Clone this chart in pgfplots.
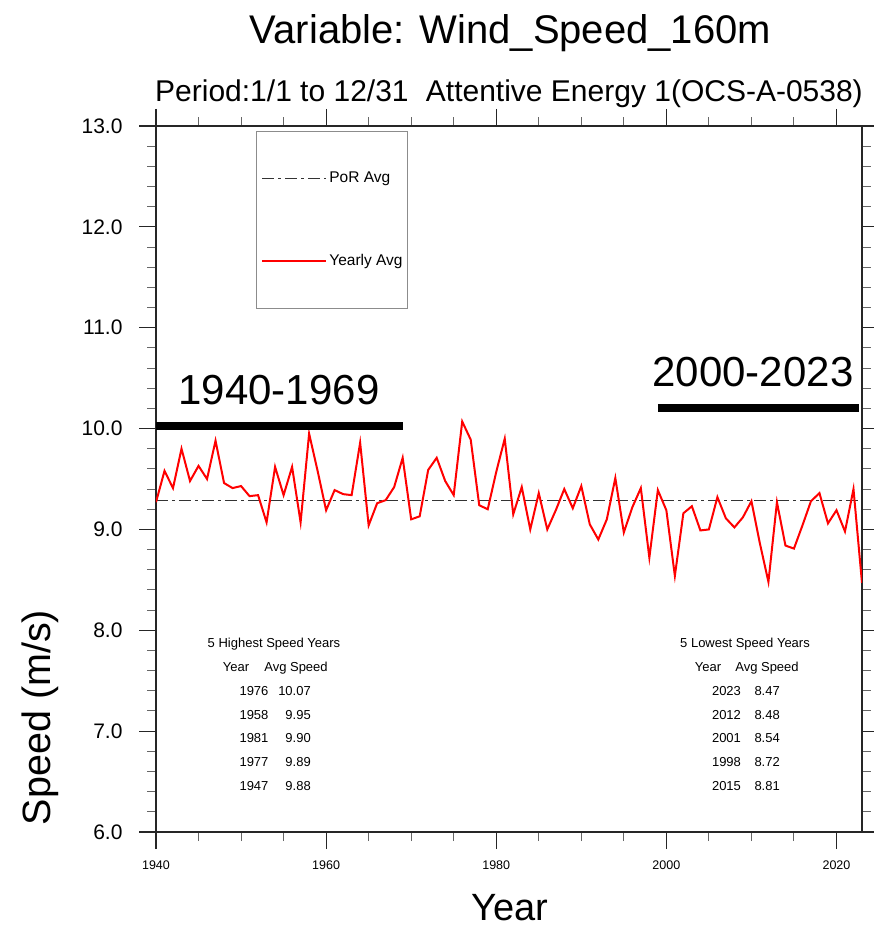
\documentclass[border=0pt]{standalone}
\usepackage{pgfplots}
\pgfplotsset{compat=1.18}
\usepackage{pgfplotstable}
\usepackage{fontspec}
\setmainfont{Liberation Sans}

% yearly mean wind speed at 160 m (m/s)
\pgfplotstableread{
year speed
1940 9.27
1941 9.58
1942 9.41
1943 9.80
1944 9.48
1945 9.63
1946 9.50
1947 9.88
1948 9.46
1949 9.41
1950 9.43
1951 9.33
1952 9.34
1953 9.07
1954 9.62
1955 9.34
1956 9.62
1957 9.07
1958 9.95
1959 9.58
1960 9.19
1961 9.39
1962 9.35
1963 9.34
1964 9.86
1965 9.04
1966 9.26
1967 9.29
1968 9.42
1969 9.71
1970 9.10
1971 9.13
1972 9.59
1973 9.71
1974 9.48
1975 9.34
1976 10.07
1977 9.89
1978 9.24
1979 9.20
1980 9.57
1981 9.90
1982 9.15
1983 9.42
1984 9.00
1985 9.36
1986 9.00
1987 9.19
1988 9.40
1989 9.21
1990 9.43
1991 9.05
1992 8.90
1993 9.10
1994 9.51
1995 8.97
1996 9.22
1997 9.41
1998 8.72
1999 9.39
2000 9.19
2001 8.54
2002 9.16
2003 9.23
2004 8.99
2005 9.00
2006 9.32
2007 9.11
2008 9.02
2009 9.12
2010 9.28
2011 8.86
2012 8.48
2013 9.27
2014 8.84
2015 8.81
2016 9.04
2017 9.28
2018 9.36
2019 9.06
2020 9.19
2021 8.98
2022 9.40
2023 8.47
}\yearly

\begin{document}
\begin{tikzpicture}[x=1pt,y=1pt]
\begin{axis}[
  at={(0,0)}, anchor=south west,
  width=706pt, height=706pt, scale only axis,
  xmin=1940, xmax=2023, ymin=6, ymax=13,
  xtick={1940,1960,1980,2000,2020}, minor x tick num=3,
  ytick={6,7,...,13}, minor y tick num=4,
  tick align=outside, tick pos=both,
  major tick length=17pt, minor tick length=9pt,
  axis line style={black!85, line width=1.2pt},
  major tick style={black!85, line width=1.2pt},
  minor tick style={black!60, line width=1pt},
  /pgf/number format/assume math mode=true,
  /pgf/number format/1000 sep={},
  xticklabel style={font=\fontsize{12.5}{14}\selectfont, yshift=-8pt},
  yticklabel style={font=\fontsize{21}{24}\selectfont, xshift=-13pt,
    /pgf/number format/.cd, fixed, fixed zerofill, precision=1},
  legend style={at={(0.1416,0.9929)}, anchor=north west,
    draw=black!45, line width=0.8pt, fill=white,
    inner xsep=5pt, inner ysep=39pt, row sep=67pt, column sep=2pt,
    font=\fontsize{15.5}{18}\selectfont,
    nodes={inner sep=0pt, text height=12pt, text depth=4pt}},
  legend cell align=left,
  legend image code/.code={\draw[#1] (0pt,0pt) -- (64pt,0pt);},
]
  % period of record average
  \addplot[black!80, line width=1.2pt,
    dash pattern=on 12pt off 4pt on 3pt off 4pt]
    coordinates {(1940,9.29) (2023,9.29)};
  \addlegendentry{PoR Avg}
  \addplot[red, line width=2pt] table[x=year, y=speed] {\yearly};
  \addlegendentry{Yearly Avg}
  % period bars
  \addplot[black, line width=7.7pt, forget plot]
    coordinates {(1940,10.025) (1969,10.025)};
  \addplot[black, line width=7.7pt, forget plot]
    coordinates {(1999,10.206) (2022.7,10.206)};
\end{axis}

% titles and labels
\node[anchor=base, inner sep=0pt, font=\fontsize{40}{44}\selectfont] at (354.5,788) {Variable: Wind\_Speed\_160m};
\node[anchor=base west, inner sep=0pt, font=\fontsize{30}{34}\selectfont] at (-1,730) {Period:1/1 to 12/31};
\node[anchor=base east, inner sep=0pt, font=\fontsize{30}{34}\selectfont] at (707,730) {Attentive Energy 1(OCS-A-0538)};
\node[anchor=base, inner sep=0pt, font=\fontsize{38}{42}\selectfont] at (354,-88) {Year};
\node[rotate=90, anchor=base, inner sep=0pt, font=\fontsize{39.5}{44}\selectfont] at (-105,114.5) {Speed (m/s)};

\node[anchor=base, inner sep=0pt, font=\fontsize{42}{46}\selectfont] at (123,427) {1940-1969};
\node[anchor=base, inner sep=0pt, font=\fontsize{42}{46}\selectfont] at (597,445.3) {2000-2023};

% top / bottom five tables
\begin{scope}[every node/.style={inner sep=0pt, font=\fontsize{13}{15}\selectfont}]
  \node[anchor=base] at (118,184.4) {5 Highest Speed Years};
  \node[anchor=base] at (80,160.7) {Year};
  \node[anchor=base] at (140,160.7) {Avg Speed};
  \foreach \yr/\v/\y in {1976/10.07/136.4, 1958/9.95/112.4, 1981/9.90/89.4, 1977/9.89/65.4, 1947/9.88/41.7} {
    \node[anchor=base] at (98,\y) {\yr};
    \node[anchor=base east] at (155,\y) {\v};
  }
  \node[anchor=base] at (589,184.4) {5 Lowest Speed Years};
  \node[anchor=base] at (552,160.7) {Year};
  \node[anchor=base] at (611,160.7) {Avg Speed};
  \foreach \yr/\v/\y in {2023/8.47/136.4, 2012/8.48/112.4, 2001/8.54/89.4, 1998/8.72/65.4, 2015/8.81/41.7} {
    \node[anchor=base] at (570.5,\y) {\yr};
    \node[anchor=base east] at (624,\y) {\v};
  }
\end{scope}

\pgfresetboundingbox
\path[use as bounding box] (-156,-98) rectangle (718,832);
\end{tikzpicture}
\end{document}
